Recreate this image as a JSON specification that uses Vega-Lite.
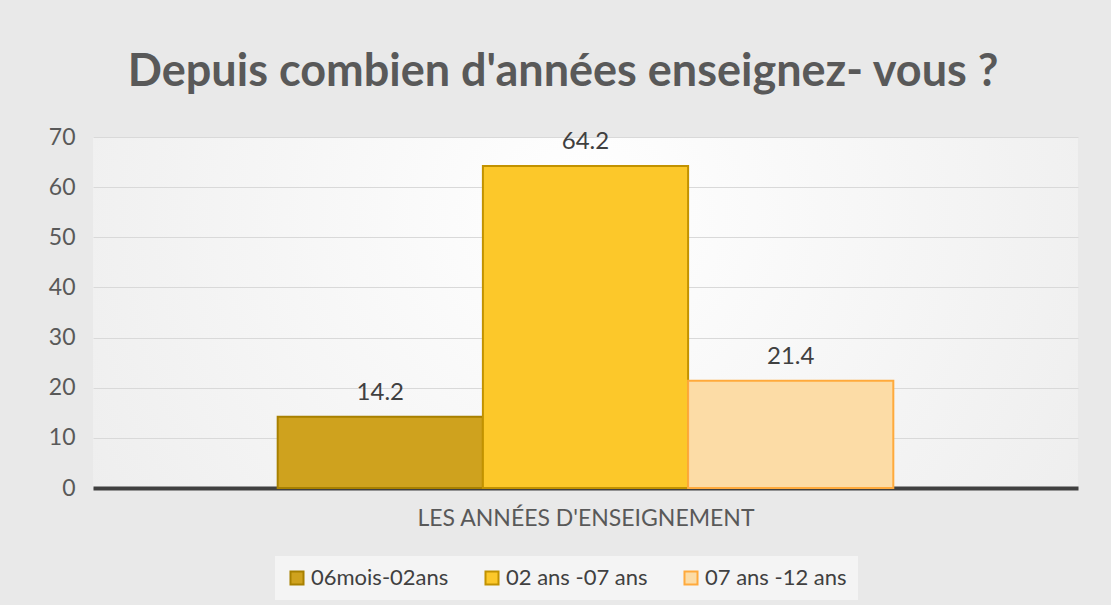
{
  "$schema": "https://vega.github.io/schema/vega-lite/v6.json",
  "width": 985,
  "height": 351,
  "padding": {"top": 50, "left": 48, "right": 34, "bottom": 5},
  "background": "#e9e9e9",
  "title": {
    "text": "Depuis combien d'années enseignez- vous ?",
    "fontSize": 45,
    "font": "Lato",
    "fontWeight": "bold",
    "color": "#595959",
    "anchor": "middle",
    "frame": "bounds",
    "offset": 31
  },
  "data": {
    "values": [
      {"categorie": "06mois-02ans", "pourcentage": 14.2},
      {"categorie": "02 ans -07 ans", "pourcentage": 64.2},
      {"categorie": "07 ans -12 ans", "pourcentage": 21.4}
    ]
  },
  "encoding": {
    "x": {
      "field": "categorie",
      "type": "nominal",
      "sort": null,
      "scale": {"paddingInner": 0, "paddingOuter": 0.9},
      "axis": {
        "title": "LES ANNÉES D'ENSEIGNEMENT",
        "labels": false,
        "ticks": false,
        "domainColor": "#404040",
        "domainWidth": 4,
        "titleFont": "Lato",
        "titleFontSize": 23,
        "titleFontWeight": "normal",
        "titleColor": "#595959",
        "titlePadding": 19
      }
    },
    "y": {
      "field": "pourcentage",
      "type": "quantitative",
      "scale": {"domain": [0, 70], "nice": false},
      "axis": {
        "title": null,
        "values": [0, 10, 20, 30, 40, 50, 60, 70],
        "labelOverlap": false,
        "ticks": false,
        "domain": false,
        "labelFont": "Lato",
        "labelFontSize": 23,
        "labelColor": "#595959",
        "labelPadding": 18,
        "gridColor": "#d9d9d9",
        "gridWidth": 1.2
      }
    }
  },
  "layer": [
    {
      "mark": {"type": "bar", "strokeWidth": 2},
      "encoding": {
        "color": {
          "field": "categorie",
          "type": "nominal",
          "sort": null,
          "scale": {
            "domain": ["06mois-02ans", "02 ans -07 ans", "07 ans -12 ans"],
            "range": ["#cfa21e", "#fcc82a", "#fcdca6"]
          },
          "legend": {
            "title": null,
            "orient": "none",
            "legendX": 182,
            "legendY": 419,
            "direction": "horizontal",
            "fillColor": "#f4f4f4",
            "padding": 11,
            "symbolType": "square",
            "symbolSize": 170,
            "symbolStrokeWidth": 2,
            "labelFont": "Lato",
            "labelFontSize": 22,
            "labelColor": "#404040",
            "labelOffset": 3,
            "columnPadding": 32
          }
        },
        "stroke": {
          "field": "categorie",
          "type": "nominal",
          "sort": null,
          "scale": {
            "domain": ["06mois-02ans", "02 ans -07 ans", "07 ans -12 ans"],
            "range": ["#a88000", "#c29200", "#ffaa3c"]
          },
          "legend": {
            "title": null,
            "orient": "none",
            "legendX": 182,
            "legendY": 419,
            "direction": "horizontal",
            "fillColor": "#f4f4f4",
            "padding": 11,
            "symbolType": "square",
            "symbolSize": 170,
            "symbolStrokeWidth": 2,
            "labelFont": "Lato",
            "labelFontSize": 22,
            "labelColor": "#404040",
            "labelOffset": 3,
            "columnPadding": 32
          }
        }
      }
    },
    {
      "mark": {
        "type": "text",
        "dy": -24,
        "font": "Lato",
        "fontSize": 24,
        "color": "#404040"
      },
      "encoding": {
        "text": {"field": "pourcentage", "type": "quantitative", "format": ".1f"}
      }
    }
  ],
  "config": {
    "view": {
      "stroke": null,
      "fill": {
        "gradient": "radial",
        "x1": 0.5, "y1": 0.4, "r1": 0,
        "x2": 0.5, "y2": 0.4, "r2": 0.75,
        "stops": [
          {"offset": 0, "color": "#ffffff"},
          {"offset": 1, "color": "#e9e9e9"}
        ]
      }
    }
  }
}
